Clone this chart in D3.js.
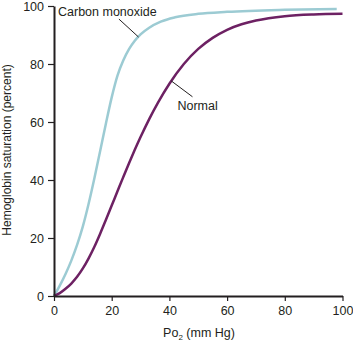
<!DOCTYPE html>
<html>
<head>
<meta charset="utf-8">
<script src="https://cdn.jsdelivr.net/npm/d3@7"></script>
<style>
    body { margin: 0; background: #fff; }
    text { font-family: "Liberation Sans", Arial, sans-serif; fill: #231f20; }
</style>
</head>
<body>
<svg id="chart" width="353" height="344"></svg>
<script>
// Po2 (mm Hg) / saturation (%)
let carbonMonoxide = [
    [0, 0], [2, 3.6], [4, 7.6], [6, 12.2], [8, 17.6], [10, 24], [12, 31.8], [14, 40.6],
    [16, 50], [18, 59.5], [20, 68.5], [22, 76], [24, 81.2], [26, 85.1], [28, 88],
    [30, 90.2], [33, 92.5], [37, 94.6], [42, 96.1], [50, 97.3], [60, 98],
    [80, 98.7], [98, 99]
];
let normal = [
    [0, 0], [2, 1], [4, 2.5], [6, 4.3], [8, 6.6], [10, 9.5], [12, 13], [14, 17],
    [16, 21.5], [18, 26.3], [20, 31.2], [22, 36.1], [24, 41], [26, 45.8], [28, 50.4],
    [30, 54.8], [33, 61], [36, 66.6], [40, 73.2], [45, 80], [50, 85.2], [55, 89],
    [60, 91.8], [65, 93.7], [70, 95], [80, 96.5], [90, 97.1], [100, 97.3]
];
let xTicks = [0, 20, 40, 60, 80, 100];
let yTicks = [0, 20, 40, 60, 80, 100];

let svg = d3.select("#chart");
let margin = { top: 6, right: 10.5, bottom: 48, left: 54 };
let width = 353 - margin.left - margin.right;
let height = 344 - margin.top - margin.bottom;

let g = svg.append("g").attr("transform", "translate(" + margin.left + "," + margin.top + ")");

let x = d3.scaleLinear().domain([0, 100]).range([0, width]);
let y = d3.scaleLinear().domain([0, 100]).range([height, 0]);

let line = d3.line()
    .x(d => x(d[0]))
    .y(d => y(d[1]))
    .curve(d3.curveMonotoneX);

g.append("path")
    .datum(carbonMonoxide)
    .attr("d", line)
    .attr("fill", "none")
    .attr("stroke", "#9ccbd3")
    .attr("stroke-width", 2.5);

g.append("path")
    .datum(normal)
    .attr("d", line)
    .attr("fill", "none")
    .attr("stroke", "#6d2163")
    .attr("stroke-width", 2.5);

let xAxis = g.append("g")
    .attr("transform", "translate(0," + height + ")")
    .call(d3.axisBottom(x).tickValues(xTicks).tickSize(5).tickPadding(5).tickSizeOuter(0));

let yAxis = g.append("g")
    .call(d3.axisLeft(y).tickValues(yTicks).tickSize(6).tickPadding(4).tickSizeOuter(0));

for (let ax of [xAxis, yAxis]) {
    ax.select(".domain").attr("stroke", "#231f20").attr("stroke-width", 2);
    ax.selectAll(".tick line").attr("stroke", "#231f20").attr("stroke-width", 1.2);
    ax.selectAll(".tick text").attr("font-size", 12.5).attr("fill", "#231f20")
        .attr("font-family", "'Liberation Sans', Arial, sans-serif");
}

// labels with leader lines
g.append("line")
    .attr("x1", x(22.5)).attr("y1", y(95.5))
    .attr("x2", x(29.3)).attr("y2", y(89.3))
    .attr("stroke", "#231f20").attr("stroke-width", 1);
g.append("text")
    .attr("x", x(1.4)).attr("y", y(96.5))
    .attr("font-size", 12.5)
    .text("Carbon monoxide");

g.append("line")
    .attr("x1", x(40.6)).attr("y1", y(74.2))
    .attr("x2", x(48)).attr("y2", y(68.7))
    .attr("stroke", "#231f20").attr("stroke-width", 1);
g.append("text")
    .attr("x", x(42.8)).attr("y", y(64))
    .attr("font-size", 12.5)
    .text("Normal");

// axis titles
let xLabel = svg.append("text")
    .attr("x", 199).attr("y", 337)
    .attr("text-anchor", "middle")
    .attr("font-size", 12.5);
xLabel.append("tspan").text("Po");
xLabel.append("tspan").attr("font-size", 8).attr("dy", 3).text("2");
xLabel.append("tspan").attr("dy", -3).text(" (mm Hg)");

svg.append("text")
    .attr("transform", "translate(11,150) rotate(-90)")
    .attr("text-anchor", "middle")
    .attr("font-size", 12)
    .text("Hemoglobin saturation (percent)");
</script>
</body>
</html>
